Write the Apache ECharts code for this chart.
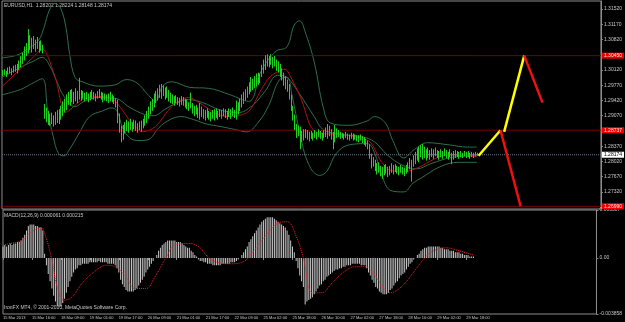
<!DOCTYPE html>
<html>
<head>
<meta charset="utf-8">
<script src="https://cdn.jsdelivr.net/npm/echarts@6/dist/echarts.min.js"></script>
<style>
html,body{margin:0;padding:0;background:#000;}
#chart{width:625px;height:322px;}
</style>
</head>
<body>
<div id="chart"></div>
<script>
// hourly bars, 15 Mar 2013 00:00 .. 29 Mar 2013 22:00
var lows = [
1.2998,1.3000,1.2996,1.3002,1.3004,1.3000,1.3006,1.3008,1.3004,1.3012,
1.3018,1.3026,1.3034,1.3044,1.3050,1.3058,1.3052,1.3060,1.3054,1.3060,
1.3052,1.3056,1.3050,1.2900,1.2892,1.2886,1.2884,1.2888,1.2882,1.2886,
1.2890,1.2888,1.2898,1.2906,1.2914,1.2920,1.2932,1.2930,1.2938,1.2934,
1.2940,1.2936,1.2944,1.2942,1.2946,1.2940,1.2944,1.2938,1.2942,1.2946,
1.2944,1.2940,1.2946,1.2948,1.2944,1.2938,1.2942,1.2940,1.2936,1.2940,
1.2938,1.2934,1.2926,1.2890,1.2868,1.2846,1.2852,1.2866,1.2872,1.2868,
1.2874,1.2870,1.2876,1.2872,1.2868,1.2874,1.2870,1.2878,1.2884,1.2890,
1.2900,1.2910,1.2918,1.2926,1.2936,1.2942,1.2948,1.2946,1.2952,1.2944,
1.2948,1.2940,1.2936,1.2934,1.2930,1.2936,1.2932,1.2928,1.2932,1.2930,
1.2926,1.2922,1.2918,1.2924,1.2912,1.2906,1.2910,1.2902,1.2898,1.2904,
1.2900,1.2896,1.2902,1.2898,1.2894,1.2900,1.2896,1.2902,1.2898,1.2904,
1.2900,1.2906,1.2902,1.2898,1.2904,1.2900,1.2906,1.2902,1.2898,1.2910,
1.2918,1.2926,1.2934,1.2942,1.2948,1.2956,1.2962,1.2966,1.2970,1.2974,
1.2978,1.2982,1.2996,1.3004,1.3012,1.3020,1.3018,1.3024,1.3016,1.3020,
1.3010,1.3006,1.2996,1.2988,1.2976,1.2968,1.2962,1.2944,1.2918,1.2896,
1.2874,1.2856,1.2860,1.2830,1.2846,1.2850,1.2856,1.2852,1.2848,1.2854,
1.2850,1.2856,1.2852,1.2858,1.2854,1.2850,1.2856,1.2858,1.2854,1.2860,
1.2852,1.2830,1.2846,1.2856,1.2858,1.2854,1.2856,1.2852,1.2856,1.2852,
1.2850,1.2854,1.2850,1.2852,1.2848,1.2846,1.2850,1.2844,1.2840,1.2836,
1.2830,1.2808,1.2786,1.2790,1.2780,1.2772,1.2776,1.2768,1.2762,1.2770,
1.2774,1.2766,1.2770,1.2776,1.2772,1.2778,1.2774,1.2770,1.2776,1.2772,
1.2768,1.2774,1.2778,1.2784,1.2756,1.2790,1.2796,1.2804,1.2800,1.2812,
1.2806,1.2810,1.2804,1.2810,1.2806,1.2812,1.2808,1.2814,1.2810,1.2806,
1.2812,1.2808,1.2814,1.2810,1.2806,1.2812,1.2796,1.2806,1.2810,1.2812,
1.2808,1.2812,1.2810,1.2814,1.2810,1.2812,1.2808,1.2812,1.2810,1.2814,
1.2815
];
var highs = [
1.3012,1.3014,1.3010,1.3018,1.3020,1.3016,1.3022,1.3024,1.3026,1.3034,
1.3044,1.3052,1.3066,1.3074,1.3106,1.3092,1.3086,1.3090,1.3082,1.3088,
1.3078,1.3080,1.3070,1.2934,1.2926,1.2918,1.2912,1.2914,1.2908,1.2916,
1.2920,1.2922,1.2930,1.2940,1.2946,1.2956,1.2962,1.2966,1.2968,1.2962,
1.2970,1.2964,1.2994,1.2966,1.2964,1.2960,1.2962,1.2958,1.2962,1.2966,
1.2962,1.2958,1.2964,1.2968,1.2962,1.2960,1.2958,1.2956,1.2958,1.2962,
1.2956,1.2952,1.2948,1.2944,1.2912,1.2884,1.2886,1.2892,1.2898,1.2894,
1.2900,1.2892,1.2898,1.2896,1.2890,1.2894,1.2896,1.2900,1.2908,1.2918,
1.2928,1.2940,1.2946,1.2958,1.2964,1.2970,1.2978,1.2980,1.2978,1.2972,
1.2974,1.2966,1.2960,1.2956,1.2952,1.2954,1.2950,1.2948,1.2952,1.2950,
1.2946,1.2944,1.2938,1.2960,1.2936,1.2930,1.2932,1.2926,1.2936,1.2928,
1.2922,1.2920,1.2924,1.2918,1.2916,1.2920,1.2922,1.2924,1.2918,1.2922,
1.2920,1.2924,1.2922,1.2918,1.2924,1.2922,1.2926,1.2920,1.2942,1.2938,
1.2946,1.2956,1.2962,1.2968,1.2974,1.2984,1.2996,1.2992,1.2998,1.3004,
1.3006,1.3004,1.3024,1.3036,1.3046,1.3048,1.3044,1.3048,1.3042,1.3044,
1.3036,1.3032,1.3026,1.3016,1.3006,1.2998,1.2990,1.2980,1.2956,1.2930,
1.2910,1.2888,1.2884,1.2882,1.2872,1.2876,1.2876,1.2874,1.2870,1.2872,
1.2868,1.2874,1.2870,1.2876,1.2872,1.2868,1.2874,1.2880,1.2888,1.2884,
1.2876,1.2870,1.2886,1.2878,1.2874,1.2870,1.2868,1.2866,1.2870,1.2866,
1.2864,1.2868,1.2866,1.2864,1.2862,1.2862,1.2864,1.2860,1.2858,1.2854,
1.2850,1.2842,1.2820,1.2812,1.2806,1.2798,1.2800,1.2792,1.2790,1.2794,
1.2796,1.2790,1.2792,1.2798,1.2794,1.2796,1.2792,1.2790,1.2794,1.2790,
1.2788,1.2794,1.2800,1.2810,1.2806,1.2816,1.2824,1.2832,1.2836,1.2840,
1.2842,1.2836,1.2830,1.2834,1.2828,1.2832,1.2830,1.2834,1.2828,1.2826,
1.2830,1.2826,1.2832,1.2828,1.2824,1.2830,1.2822,1.2826,1.2828,1.2826,
1.2824,1.2826,1.2822,1.2826,1.2824,1.2826,1.2822,1.2824,1.2822,1.2824,
1.2822
];
// bollinger bands and moving average, [bar, price]
var bandUpper = [[0,1.3040],[8,1.3046],[14,1.3060],[20,1.3080],[23,1.3110],[26,1.3150],[29,1.3165],[32,1.3155],[35,1.3110],[37,1.3050],[40,1.2995],[44,1.2985],[53,1.2975],[62,1.2978],[68,1.2990],[74,1.2982],[80,1.2955],[84,1.2940],[88,1.2975],[93,1.2985],[103,1.2972],[113,1.2970],[125,1.2955],[135,1.2940],[142,1.3010],[150,1.3055],[156,1.3065],[160,1.3115],[163,1.3125],[166,1.3100],[171,1.3030],[176,1.2925],[180,1.2890],[190,1.2885],[200,1.2895],[204,1.2905],[210,1.2890],[214,1.2850],[220,1.2810],[226,1.2830],[233,1.2845],[245,1.2840],[255,1.2835],[260,1.2835]];
var bandMiddle = [[0,1.2995],[10,1.3018],[17,1.3032],[22,1.3041],[26,1.3023],[30,1.2986],[34,1.2951],[40,1.2928],[45,1.2940],[53,1.2949],[62,1.2947],[70,1.2926],[78,1.2910],[83,1.2907],[89,1.2921],[96,1.2937],[102,1.2944],[110,1.2937],[119,1.2921],[129,1.2914],[137,1.2930],[144,1.2963],[151,1.3000],[156,1.2995],[162,1.2963],[171,1.2905],[176,1.2875],[186,1.2864],[197,1.2859],[204,1.2847],[211,1.2817],[219,1.2794],[227,1.2785],[235,1.2797],[246,1.2811],[260,1.2815]];
var bandLower = [[0,1.2955],[10,1.2967],[16,1.2980],[22,1.2992],[25,1.2920],[28,1.2860],[31,1.2820],[34,1.2815],[37,1.2830],[42,1.2865],[48,1.2905],[55,1.2918],[60,1.2925],[63,1.2918],[66,1.2880],[70,1.2856],[75,1.2850],[80,1.2852],[86,1.2880],[92,1.2898],[98,1.2905],[105,1.2898],[112,1.2888],[120,1.2882],[128,1.2875],[134,1.2870],[140,1.2890],[146,1.2930],[152,1.2990],[156,1.2995],[159,1.2950],[163,1.2870],[168,1.2795],[174,1.2770],[178,1.2780],[183,1.2820],[190,1.2840],[200,1.2843],[204,1.2822],[208,1.2770],[213,1.2735],[220,1.2732],[225,1.2752],[230,1.2765],[240,1.2790],[250,1.2800],[260,1.2800]];
var maLine = [[0,1.2974],[10,1.3014],[17,1.3041],[22,1.3060],[29,1.2997],[35,1.2915],[44,1.2944],[53,1.2951],[61,1.2944],[71,1.2891],[77,1.2870],[84,1.2882],[93,1.2928],[102,1.2949],[108,1.2937],[118,1.2910],[125,1.2905],[135,1.2917],[142,1.2967],[147,1.2997],[155,1.3014],[158,1.2997],[164,1.2944],[169,1.2882],[173,1.2868],[184,1.2864],[196,1.2857],[202,1.2845],[207,1.2806],[212,1.2783],[220,1.2778],[229,1.2790],[236,1.2806],[243,1.2817],[260,1.2813]];
// projection drawn on the chart
var yellowA = [[261,1.2815],[273,1.28737]];
var yellowB = [[275,1.2870],[286,1.30450]];
var redA = [[273,1.28737],[284,1.26990]];
var redB = [[286,1.30450],[296,1.2937]];
var levels = [1.30450, 1.28737, 1.26990];
var bidLevel = 1.28174;

// MACD(12,26,9) main (histogram) per bar
var macdMain = [
0.0008,0.0009,0.0008,0.0009,0.0010,0.0009,0.0010,0.0010,0.0011,0.0011,
0.0012,0.0014,0.0016,0.0019,0.0022,0.0023,0.0023,0.0023,0.0022,0.0022,
0.0021,0.0021,0.0019,0.0003,-0.0005,-0.0011,-0.0016,-0.0021,-0.0026,-0.0030,
-0.0033,-0.0034,-0.0033,-0.0031,-0.0028,-0.0024,-0.0020,-0.0016,-0.0013,-0.0010,
-0.0008,-0.0007,-0.0005,-0.0005,-0.0004,-0.0004,-0.0004,-0.0004,-0.0003,-0.0003,
-0.0003,-0.0003,-0.0003,-0.0002,-0.0003,-0.0003,-0.0003,-0.0003,-0.0004,-0.0004,
-0.0004,-0.0004,-0.0005,-0.0007,-0.0010,-0.0015,-0.0018,-0.0020,-0.0022,-0.0023,
-0.0023,-0.0023,-0.0023,-0.0022,-0.0021,-0.0019,-0.0017,-0.0015,-0.0013,-0.0010,
-0.0008,-0.0006,-0.0004,-0.0002,0.0000,0.0002,0.0005,0.0007,0.0009,0.0010,
0.0011,0.0012,0.0012,0.0012,0.0012,0.0012,0.0011,0.0011,0.0011,0.0010,
0.0009,0.0008,0.0007,0.0007,0.0005,0.0004,0.0002,0.0001,-0.0001,-0.0002,
-0.0002,-0.0003,-0.0003,-0.0004,-0.0004,-0.0004,-0.0005,-0.0005,-0.0005,-0.0005,
-0.0005,-0.0004,-0.0004,-0.0004,-0.0004,-0.0004,-0.0003,-0.0003,-0.0003,-0.0002,
-0.0001,0.0000,0.0002,0.0004,0.0006,0.0008,0.0011,0.0013,0.0015,0.0017,
0.0019,0.0021,0.0023,0.0025,0.0026,0.0027,0.0028,0.0028,0.0028,0.0028,
0.0027,0.0026,0.0025,0.0024,0.0023,0.0022,0.0021,0.0019,0.0016,0.0012,
0.0008,0.0004,-0.0002,-0.0007,-0.0012,-0.0016,-0.0020,-0.0032,-0.0030,-0.0029,
-0.0028,-0.0027,-0.0025,-0.0023,-0.0021,-0.0019,-0.0018,-0.0016,-0.0015,-0.0013,
-0.0012,-0.0011,-0.0010,-0.0009,-0.0008,-0.0008,-0.0007,-0.0007,-0.0006,-0.0006,
-0.0005,-0.0005,-0.0005,-0.0004,-0.0004,-0.0004,-0.0004,-0.0004,-0.0005,-0.0005,
-0.0005,-0.0007,-0.0010,-0.0012,-0.0015,-0.0017,-0.0020,-0.0021,-0.0023,-0.0024,
-0.0025,-0.0025,-0.0025,-0.0024,-0.0022,-0.0021,-0.0019,-0.0017,-0.0016,-0.0014,
-0.0012,-0.0011,-0.0010,-0.0008,-0.0006,-0.0004,-0.0003,-0.0001,0.0000,0.0002,
0.0003,0.0005,0.0006,0.0007,0.0007,0.0008,0.0008,0.0008,0.0008,0.0008,
0.0008,0.0008,0.0007,0.0007,0.0006,0.0006,0.0006,0.0005,0.0005,0.0005,
0.0004,0.0004,0.0004,0.0003,0.0003,0.0002,0.0002,0.0002,0.0001,0.0001,
0.0001
];
// signal line, [bar, value]
var macdSignal = [[0,0.0009],[4,0.0010],[10,0.0012],[17,0.0019],[21,0.0021],[23,0.0017],[27,-0.0001],[30,-0.0020],[34,-0.0029],[38,-0.0027],[44,-0.0017],[52,-0.0008],[57,-0.0005],[62,-0.0006],[68,-0.0013],[73,-0.0021],[79,-0.0021],[84,-0.0013],[90,0.0000],[95,0.0009],[102,0.0010],[108,0.0008],[115,-0.0001],[125,-0.0004],[132,-0.0003],[138,0.0004],[145,0.0015],[152,0.0024],[157,0.0025],[162,0.0015],[166,0.0000],[171,-0.0024],[176,-0.0024],[182,-0.0017],[188,-0.0010],[195,-0.0006],[200,-0.0006],[205,-0.0011],[210,-0.0020],[214,-0.0024],[218,-0.0022],[223,-0.0016],[228,-0.0008],[233,0.0000],[238,0.0005],[245,0.0007],[252,0.0005],[260,0.0002]];

var timeLabels = ['15 Mar 2013','15 Mar 16:00','18 Mar 09:00','19 Mar 01:00','19 Mar 17:00','20 Mar 09:00','21 Mar 01:00','21 Mar 17:00','22 Mar 09:00','25 Mar 02:00','25 Mar 18:00','26 Mar 10:00','27 Mar 02:00','27 Mar 18:00','28 Mar 10:00','29 Mar 02:00','29 Mar 18:00'];
var priceTicks = [1.27320,1.27670,1.28020,1.28370,1.29070,1.29420,1.29770,1.30120,1.30820,1.31170,1.31520];
var macdTicks = [0.003307, 0, -0.003858];

var N = 329;
var LAST = N - 1;
var cats = [];
for (var i = 0; i < N; i++) {
	cats.push(i % 16 === 0 && i / 16 < timeLabels.length ? timeLabels[i / 16] : '');
}
var bars = lows.map(function(l, i){ return [i, l, highs[i]]; });

var FONT = 'Liberation Sans';
var txt = '#c8c8c8';
var bandColor = '#2f6f4c';

function bandLine(data){
	return { type: 'line', data: data, smooth: 0.4, symbol: 'none', silent: true,
	         lineStyle: { color: bandColor, width: 1 } };
}

function projLine(data, color){
	return {
		type: 'line', data: data, symbol: 'none', silent: true, z: 5,
		lineStyle: { color: color, width: 2.5 }
	};
}

// horizontal level with its price tag on the axis
function levelLine(v, color, type, tagBg, tagColor){
	return {
		type: 'line', data: [[0, v], [LAST, v]], symbol: 'none', silent: true, z: 3,
		lineStyle: { color: color, width: 1, type: type },
		endLabel: { show: true, distance: 1, formatter: v.toFixed(5), backgroundColor: tagBg,
		            color: tagColor, fontSize: 5, fontFamily: FONT, padding: [1, 2, 0, 2] }
	};
}

var chart = echarts.init(document.getElementById('chart'));
var series = [
	bandLine(bandUpper),
	bandLine(bandMiddle),
	bandLine(bandLower),
	{ type: 'line', data: maLine, smooth: 0.3, symbol: 'none', silent: true,
	  lineStyle: { color: '#b01010', width: 1 } },
	{ type: 'custom', data: bars, encode: { x: 0, y: [1, 2] }, silent: true, z: 4,
	  renderItem: function(params, api){
		var lo = api.coord([api.value(0), api.value(1)]);
		var hi = api.coord([api.value(0), api.value(2)]);
		var x = Math.round(lo[0]) + 0.5;
		return { type: 'line', shape: { x1: x, y1: lo[1], x2: x, y2: hi[1] },
		         style: { stroke: '#1fd21f', lineWidth: 1 } };
	  } },
	projLine(yellowA, '#ffff00'),
	projLine(yellowB, '#ffff00'),
	projLine(redA, '#ee1111'),
	projLine(redB, '#ee1111'),
	{ type: 'bar', xAxisIndex: 1, yAxisIndex: 1, data: macdMain, barWidth: 1,
	  itemStyle: { color: '#c8c8c8' } },
	{ type: 'line', xAxisIndex: 1, yAxisIndex: 1, data: macdSignal, smooth: 0.4, symbol: 'none',
	  lineStyle: { color: '#ff2020', width: 1, type: 'dotted' } }
];
levels.forEach(function(v){ series.push(levelLine(v, '#7a0000', 'solid', '#ee0000', '#ffe8e8')); });
series.push(levelLine(bidLevel, '#6c7886', 'dotted', '#ffffff', '#000000'));

chart.setOption({
	backgroundColor: '#000',
	animation: false,
	grid: [
		{ left: 2, right: 19, top: 1, height: 208, show: true, borderColor: '#8c8c8c', borderWidth: 1 },
		{ left: 2, right: 19, top: 210, height: 104, show: true, borderColor: '#8c8c8c', borderWidth: 1 }
	],
	xAxis: [
		{ type: 'category', gridIndex: 0, data: cats, boundaryGap: false,
		  axisLine: { show: false }, axisTick: { show: false }, axisLabel: { show: false } },
		{ type: 'category', gridIndex: 1, data: cats, boundaryGap: false,
		  axisLine: { show: false },
		  axisTick: { show: true, interval: function(i, v){ return v !== ''; }, length: 2, lineStyle: { color: '#8c8c8c' } },
		  axisLabel: { interval: 0, align: 'left', margin: 2, color: txt, fontSize: 4, fontFamily: FONT } }
	],
	yAxis: [
		{ type: 'value', gridIndex: 0, position: 'right', min: 1.26928, max: 1.31705,
		  splitLine: { show: false }, axisLine: { show: true, lineStyle: { color: '#8c8c8c' } },
		  axisTick: { show: true, length: 2, customValues: priceTicks, lineStyle: { color: '#8c8c8c' } },
		  axisLabel: { customValues: priceTicks, margin: 3, color: txt, fontSize: 5, fontFamily: FONT,
		               formatter: function(v){ return v.toFixed(5); } } },
		{ type: 'value', gridIndex: 1, position: 'right', min: -0.003858, max: 0.003307,
		  splitLine: { show: false }, axisLine: { show: true, lineStyle: { color: '#8c8c8c' } },
		  axisTick: { show: true, length: 2, customValues: macdTicks, lineStyle: { color: '#8c8c8c' } },
		  axisLabel: { customValues: macdTicks, margin: 3, color: txt, fontSize: 5, fontFamily: FONT,
		               formatter: function(v){ return v === 0 ? '0.00' : v.toFixed(6); } } }
	],
	graphic: [
		{ type: 'text', left: 4, top: 3, style: { text: 'EURUSD,H1  1.28202 1.28224 1.28148 1.28174', fill: txt, font: '5px ' + FONT } },
		{ type: 'text', left: 4, top: 213, style: { text: 'MACD(12,26,9) 0.000061 0.000215', fill: txt, font: '5px ' + FONT } },
		{ type: 'text', left: 4, top: 305, style: { text: 'IronFX MT4, \u00a9 2001-2013, MetaQuotes Software Corp.', fill: txt, font: '5px ' + FONT } }
	],
	series: series
});
</script>
</body>
</html>
